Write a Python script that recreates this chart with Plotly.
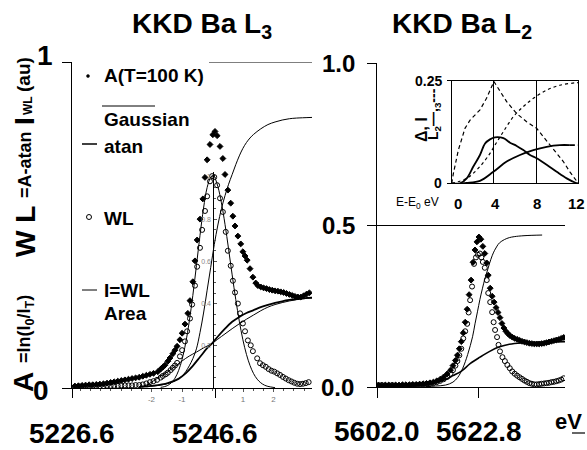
import plotly.graph_objects as go

W, H = 587, 450
FONT = "Liberation Sans, Arial, sans-serif"

# ---------------- Left panel: KKD Ba L3 ----------------
l3_A_E = [5227.0, 5227.5, 5228.0, 5228.5, 5229.0, 5229.5, 5230.0, 5230.5, 5231.0, 5231.5,
          5232.0, 5232.5, 5233.0, 5233.5, 5234.0, 5234.5, 5235.0, 5235.5, 5236.0, 5236.5, 5237.0,
          5237.5, 5238.0, 5238.6, 5239.0, 5239.3, 5239.6, 5240.0, 5240.3, 5240.7, 5241.0,
          5241.3, 5241.7, 5242.0, 5242.4, 5242.8, 5243.1, 5243.5, 5243.8, 5244.1, 5244.5,
          5244.9, 5245.2, 5245.5, 5245.9, 5246.3, 5246.6, 5246.9, 5247.3, 5247.7, 5248.0,
          5248.4, 5248.8, 5249.1, 5249.4, 5249.8, 5250.2, 5250.5, 5250.8, 5251.1, 5251.5,
          5251.9, 5252.3, 5252.6, 5253.0, 5253.4, 5253.8, 5254.2, 5254.6, 5255.0, 5255.4,
          5255.8, 5256.2, 5256.6, 5257.0, 5257.4, 5257.8, 5258.2, 5258.6, 5259.0, 5259.4, 5259.8]
l3_A = [0.006, 0.007, 0.008, 0.009, 0.010, 0.010, 0.011, 0.012, 0.013, 0.015,
        0.017, 0.019, 0.021, 0.023, 0.025, 0.027, 0.029, 0.031, 0.033, 0.036, 0.039,
        0.042, 0.045, 0.050, 0.058, 0.064, 0.070, 0.082, 0.092, 0.105, 0.116,
        0.128, 0.148, 0.168, 0.196, 0.229, 0.268, 0.326, 0.390, 0.454, 0.518,
        0.580, 0.646, 0.700, 0.747, 0.777, 0.787, 0.774, 0.741, 0.704, 0.655,
        0.607, 0.567, 0.527, 0.497, 0.466, 0.442, 0.418, 0.405, 0.392, 0.366,
        0.340, 0.322, 0.314, 0.310, 0.307, 0.305, 0.302, 0.300, 0.298, 0.297,
        0.295, 0.293, 0.290, 0.287, 0.284, 0.281, 0.279, 0.279, 0.283, 0.288, 0.292]

l3_WL_E = [5227.0, 5227.5, 5228.0, 5228.5, 5229.0, 5229.5, 5230.0, 5230.5, 5231.0, 5231.5,
           5232.0, 5232.5, 5233.0, 5233.5, 5234.0, 5234.5, 5235.0, 5235.5, 5236.0,
           5236.5, 5237.0, 5237.5, 5238.0, 5238.5, 5239.0, 5239.3, 5239.7, 5240.0, 5240.4,
           5240.7, 5241.0, 5241.3, 5241.7, 5242.0, 5242.4, 5242.7, 5243.1, 5243.4, 5243.8,
           5244.1, 5244.5, 5244.8, 5245.2, 5245.5, 5245.9, 5246.2, 5246.5, 5246.9, 5247.3,
           5247.7, 5248.1, 5248.4, 5248.8, 5249.1, 5249.4, 5249.8, 5250.1, 5250.5, 5250.8,
           5251.2, 5251.6, 5251.9, 5252.5, 5252.9, 5253.3, 5253.7, 5254.1, 5254.5, 5254.9,
           5255.3, 5255.7, 5256.1, 5256.5, 5256.9, 5257.3, 5257.7, 5258.1, 5258.5, 5258.9,
           5259.3, 5259.7]
l3_WL = [0.004, 0.004, 0.005, 0.005, 0.005, 0.006, 0.006, 0.006, 0.006, 0.007,
         0.007, 0.007, 0.007, 0.008, 0.008, 0.008, 0.008, 0.009, 0.009,
         0.011, 0.014, 0.018, 0.021, 0.025, 0.032, 0.037, 0.042, 0.047, 0.055,
         0.062, 0.069, 0.077, 0.097, 0.116, 0.143, 0.174, 0.213, 0.256, 0.314,
         0.372, 0.430, 0.485, 0.543, 0.588, 0.634, 0.650, 0.647, 0.622, 0.582,
         0.540, 0.479, 0.421, 0.375, 0.329, 0.293, 0.259, 0.229, 0.198, 0.174,
         0.146, 0.131, 0.113, 0.091, 0.076, 0.070, 0.065, 0.058, 0.053, 0.050,
         0.045, 0.040, 0.034, 0.029, 0.024, 0.020, 0.016, 0.013, 0.012, 0.013,
         0.015, 0.018]

l3_gauss_E = [5239.0, 5239.5, 5240.0, 5240.5, 5241.0, 5241.5, 5242.0, 5242.5, 5243.0, 5243.5,
              5244.0, 5244.5, 5245.0, 5245.5, 5246.0, 5246.2, 5246.5, 5247.0, 5247.5, 5248.0,
              5248.5, 5249.0, 5249.5, 5250.0, 5250.5, 5251.0, 5251.5, 5252.0, 5252.5, 5253.0,
              5253.5, 5254.0, 5255.0]
l3_gauss = [0.002, 0.004, 0.008, 0.016, 0.030, 0.053, 0.088, 0.138, 0.204, 0.284,
            0.375, 0.468, 0.552, 0.615, 0.647, 0.650, 0.647, 0.618, 0.568, 0.502,
            0.426, 0.347, 0.272, 0.205, 0.148, 0.103, 0.069, 0.044, 0.027, 0.016,
            0.009, 0.005, 0.001]

l3_steep_E = [5237.0, 5238.0, 5239.0, 5240.0, 5241.0, 5242.0, 5242.5, 5243.0, 5243.5, 5244.0,
              5244.5, 5245.0, 5245.5, 5246.0, 5246.5, 5247.0, 5247.5, 5248.0, 5248.5, 5249.0,
              5249.5, 5250.0, 5250.5, 5251.0, 5251.5, 5252.0, 5253.0, 5254.0, 5255.0, 5256.0,
              5257.0, 5258.0, 5260.2]
l3_steep = [0.004, 0.006, 0.009, 0.014, 0.022, 0.037, 0.050, 0.068, 0.090, 0.120,
            0.170, 0.230, 0.300, 0.370, 0.440, 0.500, 0.550, 0.590, 0.625, 0.655,
            0.685, 0.712, 0.735, 0.753, 0.767, 0.778, 0.795, 0.808, 0.816, 0.822,
            0.826, 0.828, 0.830]

l3_atan_E = [5236.0, 5238.0, 5240.0, 5241.5, 5242.5, 5243.5, 5244.5, 5245.5, 5246.2, 5247.0,
             5248.0, 5249.0, 5250.0, 5251.0, 5252.0, 5253.0, 5254.0, 5255.0, 5256.0, 5257.0,
             5258.0, 5259.0, 5260.2]
l3_atan = [0.003, 0.007, 0.015, 0.028, 0.045, 0.068, 0.095, 0.122, 0.137, 0.158,
           0.182, 0.203, 0.218, 0.230, 0.239, 0.248, 0.255, 0.261, 0.266, 0.270,
           0.273, 0.275, 0.277]

l3_area_E = [5236.0, 5237.0, 5238.0, 5239.0, 5240.0, 5241.0, 5242.0, 5243.0, 5244.0, 5245.0,
             5246.2, 5247.0, 5248.0, 5249.0, 5250.0, 5251.0, 5252.0, 5253.0, 5254.0, 5255.0,
             5256.0, 5257.0, 5258.0, 5259.0, 5260.2]
l3_area = [0.004, 0.009, 0.022, 0.036, 0.050, 0.066, 0.083, 0.098, 0.110, 0.123,
           0.137, 0.150, 0.166, 0.182, 0.197, 0.211, 0.224, 0.237, 0.248, 0.256,
           0.262, 0.267, 0.271, 0.274, 0.276]

# ---------------- Right panel: KKD Ba L2 ----------------
l2_E = [5602.3, 5603.0, 5603.7, 5604.4, 5605.1, 5605.8, 5606.5, 5607.2, 5607.9, 5608.6,
        5609.3, 5610.0, 5610.7, 5611.4, 5612.1, 5612.8, 5613.5]
l2_A_base = [0.005, 0.005, 0.006, 0.006, 0.005, 0.006, 0.006, 0.007, 0.007, 0.007,
             0.008, 0.008, 0.009, 0.010, 0.011, 0.013, 0.015]
l2_WL_base = [0.006, 0.006, 0.005, 0.005, 0.006, 0.005, 0.004, 0.004, 0.005, 0.005,
              0.006, 0.006, 0.007, 0.008, 0.009, 0.010, 0.012]

l2_A_E2 = [5614.2, 5614.9, 5615.6, 5616.3, 5617.0, 5617.5, 5618.0, 5618.4, 5618.8, 5619.2,
           5619.6, 5620.0, 5620.4, 5620.8, 5621.2, 5621.6, 5622.0, 5622.4, 5622.8, 5623.2,
           5623.6, 5624.0, 5624.4, 5624.7, 5625.1, 5625.5, 5625.9, 5626.3, 5626.7, 5627.1,
           5627.5, 5627.9, 5628.3, 5628.7, 5629.1, 5629.6, 5630.1, 5630.6, 5631.1, 5631.6,
           5632.1, 5632.6, 5633.1, 5633.6, 5634.1, 5634.6, 5635.1, 5635.6, 5636.1, 5636.6,
           5637.1, 5637.6, 5638.1, 5638.6, 5639.1, 5639.6, 5640.1]
l2_A2 = [0.019, 0.024, 0.031, 0.040, 0.052, 0.066, 0.082, 0.098, 0.118, 0.140,
         0.167, 0.200, 0.240, 0.285, 0.330, 0.385, 0.423, 0.448, 0.463, 0.456,
         0.434, 0.412, 0.383, 0.345, 0.305, 0.280, 0.262, 0.245, 0.230, 0.214,
         0.196, 0.182, 0.172, 0.165, 0.159, 0.154, 0.150, 0.147, 0.144, 0.141,
         0.139, 0.137, 0.135, 0.134, 0.133, 0.133, 0.133, 0.134, 0.135, 0.137,
         0.139, 0.141, 0.143, 0.145, 0.147, 0.150, 0.153]

l2_WL_E2 = [5614.2, 5614.9, 5615.6, 5616.3, 5617.0, 5617.5, 5618.0, 5618.4, 5618.8, 5619.2,
            5619.6, 5620.0, 5620.4, 5620.7, 5621.0, 5621.4, 5621.8, 5622.2, 5622.6, 5623.0,
            5623.3, 5623.6, 5624.0, 5624.4, 5624.7, 5625.1, 5625.5, 5625.8, 5626.1, 5626.5,
            5626.8, 5627.1, 5627.6, 5628.1, 5628.6, 5629.1, 5629.6, 5630.1, 5630.6, 5631.1,
            5631.6, 5632.1, 5632.6, 5633.1, 5633.6, 5634.1, 5634.6, 5635.1, 5635.6, 5636.1,
            5636.6, 5637.1, 5637.6, 5638.1, 5638.6, 5639.1, 5639.6, 5640.1]
l2_WL2 = [0.015, 0.019, 0.024, 0.031, 0.041, 0.052, 0.066, 0.080, 0.098, 0.118,
          0.150, 0.172, 0.195, 0.230, 0.268, 0.310, 0.380, 0.400, 0.408, 0.412,
          0.400, 0.386, 0.368, 0.330, 0.290, 0.262, 0.231, 0.200, 0.176, 0.154,
          0.130, 0.110, 0.092, 0.080, 0.068, 0.058, 0.048, 0.041, 0.035, 0.030,
          0.025, 0.020, 0.016, 0.012, 0.010, 0.008, 0.008, 0.009, 0.010, 0.011,
          0.012, 0.013, 0.015, 0.016, 0.018, 0.020, 0.023, 0.027]

l2_steep_E = [5612.0, 5614.0, 5616.0, 5617.5, 5618.5, 5619.5, 5620.5, 5621.5, 5622.0, 5622.5,
              5623.0, 5623.5, 5624.0, 5624.5, 5625.0, 5625.5, 5626.0, 5626.5, 5627.0, 5628.0,
              5629.0, 5630.0, 5632.0, 5635.7]
l2_steep = [0.001, 0.003, 0.006, 0.015, 0.030, 0.058, 0.100, 0.155, 0.195, 0.232,
            0.270, 0.303, 0.333, 0.358, 0.383, 0.405, 0.422, 0.435, 0.445, 0.455,
            0.461, 0.464, 0.467, 0.469]

l2_atan_E = [5608.0, 5611.0, 5613.4, 5615.5, 5617.5, 5619.3, 5621.0, 5623.0, 5625.0, 5627.0,
             5629.0, 5631.5, 5634.0, 5636.0, 5638.0, 5640.4]
l2_atan = [0.002, 0.006, 0.012, 0.020, 0.035, 0.050, 0.072, 0.092, 0.110, 0.124,
           0.132, 0.136, 0.137, 0.138, 0.139, 0.140]

# ---------------- Inset: Delta and I (E - E0, eV) ----------------
ins_d3_x = [0.0, 0.16, 0.63, 1.1, 1.26, 1.74, 2.68, 3.3, 4.0, 4.42, 5.21, 6.16, 7.1, 8.05,
            8.68, 9.63, 10.58, 11.2, 11.84, 12.0]
ins_d3_y = [0.0, 0.024, 0.081, 0.125, 0.134, 0.154, 0.179, 0.207, 0.248, 0.231, 0.199, 0.170,
            0.150, 0.134, 0.114, 0.085, 0.053, 0.028, 0.004, 0.0]
ins_i3_x = [0.0, 1.42, 2.68, 3.63, 4.1, 4.9, 5.84, 6.79, 7.74, 9.0, 10.26, 11.84, 12.0]
ins_i3_y = [0.0, 0.012, 0.041, 0.073, 0.093, 0.126, 0.162, 0.187, 0.207, 0.227, 0.239, 0.245, 0.245]
ins_d2_x = [0.0, 0.79, 1.42, 2.05, 2.68, 3.16, 3.63, 4.1, 4.9, 5.53, 6.16, 6.79, 7.42, 8.05,
            9.0, 9.95, 10.9, 11.68, 12.0]
ins_d2_y = [0.0, 0.0, 0.012, 0.041, 0.069, 0.097, 0.107, 0.112, 0.110, 0.099, 0.091, 0.081,
            0.069, 0.061, 0.045, 0.028, 0.012, 0.002, 0.0]
ins_i2_x = [1.0, 1.42, 2.68, 3.95, 5.21, 6.47, 7.74, 9.0, 10.26, 11.2]
ins_i2_y = [0.0, 0.001, 0.006, 0.028, 0.053, 0.069, 0.081, 0.089, 0.093, 0.093]
ins_i2_end_x = [11.2, 12.0]
ins_i2_end_y = [0.093, 0.093]

for a, b in [(l3_A_E, l3_A), (l3_WL_E, l3_WL), (l3_gauss_E, l3_gauss), (l3_steep_E, l3_steep),
             (l3_atan_E, l3_atan), (l3_area_E, l3_area), (l2_E, l2_A_base), (l2_E, l2_WL_base),
             (l2_A_E2, l2_A2), (l2_WL_E2, l2_WL2), (l2_steep_E, l2_steep), (l2_atan_E, l2_atan),
             (ins_d3_x, ins_d3_y), (ins_i3_x, ins_i3_y), (ins_d2_x, ins_d2_y), (ins_i2_x, ins_i2_y)]:
    assert len(a) == len(b), (len(a), len(b))


def px(x):
    return x / W


def py(y):
    return 1 - y / H


fig = go.Figure()


def line(x, y, xa, ya, width=1.0, dash="solid", shape="spline"):
    fig.add_trace(go.Scatter(x=x, y=y, xaxis=xa, yaxis=ya, mode="lines",
                             line=dict(color="black", width=width, dash=dash, shape=shape),
                             hoverinfo="skip", showlegend=False))


def marks(x, y, xa, ya, symbol, size=5):
    fig.add_trace(go.Scatter(x=x, y=y, xaxis=xa, yaxis=ya, mode="markers",
                             marker=dict(symbol=symbol, size=size, color="black",
                                         line=dict(color="black", width=1)),
                             hoverinfo="skip", showlegend=False))


# left panel
line(l3_steep_E, l3_steep, "x", "y", 1.0)
line(l3_area_E, l3_area, "x", "y", 1.0)
line(l3_atan_E, l3_atan, "x", "y", 1.8)
line(l3_gauss_E, l3_gauss, "x", "y", 1.0)
marks(l3_A_E, l3_A, "x", "y", "diamond", 4.5)
marks(l3_WL_E, l3_WL, "x", "y", "circle-open", 5)

# right panel
line(l2_steep_E, l2_steep, "x2", "y2", 1.0)
line(l2_atan_E, l2_atan, "x2", "y2", 1.6)
marks(l2_E + l2_A_E2, l2_A_base + l2_A2, "x2", "y2", "diamond", 4.5)
marks(l2_E + l2_WL_E2, l2_WL_base + l2_WL2, "x2", "y2", "circle-open", 5)

# inner gaussian axes (placeholder so the axes are drawn)
fig.add_trace(go.Scatter(x=[0], y=[0], xaxis="x3", yaxis="y3", mode="markers",
                         marker=dict(opacity=0), hoverinfo="skip", showlegend=False))

# inset
line(ins_d3_x, ins_d3_y, "x4", "y4", 1.2, "4px,3px", "linear")
line(ins_i3_x, ins_i3_y, "x4", "y4", 1.2, "3px,3px", "spline")
line(ins_d2_x, ins_d2_y, "x4", "y4", 1.8, "solid", "spline")
line(ins_i2_x, ins_i2_y, "x4", "y4", 1.8, "solid", "spline")
line(ins_i2_end_x, ins_i2_end_y, "x4", "y4", 1.8, "5px,3px", "linear")

ax_common = dict(showgrid=False, zeroline=False, showticklabels=False, linecolor="black",
                 linewidth=1, tickcolor="black", tickwidth=1)

left_x0, left_x1 = 72, 312
xr_left = [5226.6, 5226.6 + (left_x1 - left_x0) / 7.15]
right_x0, right_x1 = 377, 565
xr_right = [5602.0, 5602.0 + (right_x1 - right_x0) / 4.9]
in_x0 = 212.5
in_scale = 30.5

fig.update_layout(
    width=W, height=H, margin=dict(l=0, r=0, t=0, b=0),
    paper_bgcolor="white", plot_bgcolor="rgba(0,0,0,0)",
    font=dict(family=FONT, color="black"),
    xaxis=dict(domain=[px(left_x0), px(left_x1)], range=xr_left, anchor="y",
               showline=True, ticks="outside", ticklen=9, tickvals=[5226.6, 5246.6], **ax_common),
    yaxis=dict(domain=[py(388), py(62)], range=[0, 1], anchor="x",
               showline=True, ticks="outside", ticklen=9, tickvals=[0, 1], **ax_common),
    xaxis2=dict(domain=[px(right_x0), px(right_x1)], range=xr_right, anchor="y2",
                showline=True, ticks="outside", ticklen=10, tickvals=[5602.0, 5622.8], **ax_common),
    yaxis2=dict(domain=[py(387), py(63)], range=[0, 1], anchor="x2",
                showline=True, ticks="outside", ticklen=9, tickvals=[0, 0.5, 1],
                showgrid=True, gridcolor="black", gridwidth=1,
                zeroline=False, showticklabels=False, linecolor="black", linewidth=1,
                tickcolor="black", tickwidth=1),
    xaxis3=dict(domain=[px(left_x0), px(left_x1)],
                range=[(left_x0 - in_x0) / in_scale, (left_x1 - in_x0) / in_scale],
                anchor="free", position=py(388), showline=False, showgrid=False, zeroline=False,
                ticks="outside", ticklen=3, tickcolor="#555", tickvals=[-2, -1, 1, 2],
                ticktext=["-2", "-1", "1", "2"], tickfont=dict(size=8, color="#777"),
                minor=dict(ticks="outside", ticklen=2, dtick=1 / 3, tick0=0, tickcolor="#555")),
    yaxis3=dict(domain=[py(388), py(172)], range=[0, (388 - 172) / 211.0],
                anchor="free", position=px(in_x0), showline=True, linecolor="black", linewidth=1.2,
                showgrid=False, zeroline=False, ticks="inside", ticklen=3, tickcolor="#555",
                tickvals=[0.2, 0.4, 0.6, 0.8, 1.0], ticktext=["0.2", "0.4", "0.6", "0.8", "1"],
                tickfont=dict(size=7, color="#888"),
                minor=dict(ticks="inside", ticklen=2, dtick=0.05, tickcolor="#555")),
    xaxis4=dict(domain=[px(451.7), px(578.3)], range=[0, 12], anchor="y4",
                showline=True, mirror=True, linecolor="black", linewidth=1,
                showgrid=True, gridcolor="black", gridwidth=1, tickvals=[4, 8],
                ticks="", showticklabels=False, zeroline=False),
    yaxis4=dict(domain=[py(183.3), py(80.7)], range=[0, 0.25], anchor="x4",
                showline=True, mirror=True, linecolor="black", linewidth=1,
                showgrid=False, tickvals=[0, 0.25], ticks="outside", ticklen=4,
                tickcolor="black", showticklabels=False, zeroline=False),
)

ann = []


def A(text, x, y, size, bold=True, angle=0, color="black", xanchor="center", yanchor="middle"):
    ann.append(dict(text=("<b>%s</b>" % text) if bold else text, x=px(x), y=py(y),
                    xref="paper", yref="paper", showarrow=False, textangle=angle,
                    font=dict(size=size, color=color, family=FONT),
                    xanchor=xanchor, yanchor=yanchor))


# titles
A("KKD Ba L<sub>3</sub>", 202, 25, 28)
A("KKD Ba L<sub>2</sub>", 462, 25, 28)

# rotated y-axis title pieces
A("A", 23, 382, 28, angle=-90)
A("=ln(I<sub>0</sub>/I<sub>T</sub>)", 25, 329, 18, angle=-90)
A("W L", 25, 232, 28, angle=-90)
A("=A-atan", 25, 165, 18, angle=-90)
A("I", 24, 121, 28, angle=-90)
A("WL", 28, 106, 12, angle=-90)
A("(au)", 24, 75, 19, angle=-90)

# tick labels
A("1", 45, 55, 28)
A("0", 41, 390, 28)
A("1.0", 338, 63, 24)
A("0.5", 338, 225, 24)
A("0.0", 337, 387, 24)
A("5226.6", 72, 433, 28)
A("5246.6", 215, 433, 28)
A("5602.0", 377, 431, 28)
A("5622.8", 479, 431, 28)
A("eV", 568, 421, 22)

# legend texts (left panel)
A("A(T=100 K)", 102, 76, 19, xanchor="left")
A("Gaussian", 102, 120, 19, xanchor="left")
A("atan", 102, 146, 19, xanchor="left")
A("WL", 102, 218, 19, xanchor="left")
A("I=WL", 102, 290, 19, xanchor="left")
A("Area", 102, 313, 19, xanchor="left")

# inset labels
A("0.25", 428, 81, 14)
A("0", 438, 183, 14)
A("0", 458, 203, 15)
A("4", 495, 203, 15)
A("8", 537, 203, 15)
A("12", 576, 203, 15)
A("E-E<sub>0</sub> eV", 417, 203, 12, bold=False)
A("Δ, I", 421, 130, 16, angle=-90)
A("L<sub>2</sub>—,<sub>3</sub>---", 434, 114, 14, angle=-90)

fig.update_layout(annotations=ann)

shapes = []


def seg(x0, y0, x1, y1, w=1.0):
    shapes.append(dict(type="line", xref="paper", yref="paper", x0=px(x0), y0=py(y0),
                       x1=px(x1), y1=py(y1), line=dict(color="black", width=w)))


# partial gridline of left panel at value 1
shapes.append(dict(type="line", xref="paper", yref="y", x0=px(209), x1=px(left_x1), y0=1, y1=1,
                   line=dict(color="black", width=1)))
# legend glyphs
seg(102, 106, 155, 106, 1.0)   # line above "Gaussian"
seg(82, 144, 97, 144, 1.5)     # atan
seg(82, 290, 97, 290, 1.0)     # I=WL
shapes.append(dict(type="circle", xref="paper", yref="paper", x0=px(86.5), x1=px(89.5),
                   y0=py(77.5), y1=py(74.5), fillcolor="black", line=dict(color="black", width=0.5)))
shapes.append(dict(type="circle", xref="paper", yref="paper", x0=px(86.5), x1=px(91.5),
                   y0=py(219.5), y1=py(214.5), fillcolor="white", line=dict(color="black", width=1)))
# underline under V of eV
seg(572, 433, 585, 433, 1.2)

fig.update_layout(shapes=shapes)

fig.write_html("out.html")
